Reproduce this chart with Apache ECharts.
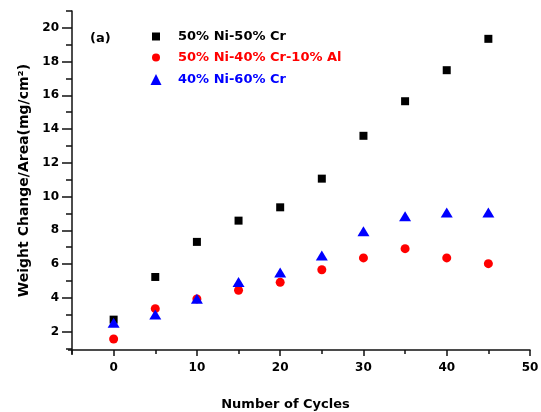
<!DOCTYPE html>
<html>
<head>
<meta charset="utf-8">
<script src="https://cdn.jsdelivr.net/npm/echarts@6/dist/echarts.min.js"></script>
<style>
html,body{margin:0;padding:0;background:#fff;}
#chart{width:541px;height:412px;}
</style>
</head>
<body>
<div id="chart"></div>
<script>
// ---- data ----
var cycles = [0, 5, 10, 15, 20, 25, 30, 35, 40, 45];
var niCr50 = [2.70, 5.23, 7.31, 8.57, 9.36, 11.06, 13.60, 15.65, 17.49, 19.35];
var niCrAl = [1.55, 3.35, 3.93, 4.44, 4.91, 5.66, 6.36, 6.91, 6.36, 6.02];
var niCr60 = [2.52, 3.00, 3.94, 4.93, 5.50, 6.51, 7.94, 8.83, 9.06, 9.06];
var seriesNames = ['50% Ni-50% Cr', '50% Ni-40% Cr-10% Al', '40% Ni-60% Cr'];
var xMajorTicks = [0, 10, 20, 30, 40, 50];
var xMinorTicks = [-5, 5, 15, 25, 35, 45];
var yMajorTicks = [2, 4, 6, 8, 10, 12, 14, 16, 18, 20];
var yMinorTicks = [1, 3, 5, 7, 9, 11, 13, 15, 17, 19, 21];

function pairs(xs, ys) { return xs.map(function (x, i) { return [x, ys[i]]; }); }

var FONT = '"DejaVu Sans", Verdana, sans-serif';
var AX = '#111';
var legendText = { fontFamily: FONT, fontSize: 13, fontWeight: 'bold', lineHeight: 15 };
var chart = echarts.init(document.getElementById('chart'));
var option = {
  backgroundColor: '#fff',
  animation: false,
  title: {
    text: '(a)', left: 90, top: 32, padding: 0,
    textStyle: { fontFamily: FONT, fontSize: 13, fontWeight: 'bold', color: '#000' }
  },
  legend: [
    {
      orient: 'vertical', left: 152, top: 29, padding: 0,
      itemWidth: 8, itemHeight: 8, itemGap: 6,
      textStyle: Object.assign({ padding: [0, 0, 0, 13] }, legendText),
      data: [
        { name: seriesNames[0], icon: 'rect', itemStyle: { color: '#000' }, textStyle: { color: '#000' } },
        { name: seriesNames[1], icon: 'circle', itemStyle: { color: '#ff0000' }, textStyle: { color: '#ff0000' } }
      ]
    },
    {
      orient: 'vertical', left: 150.5, top: 72, padding: 0,
      itemWidth: 11, itemHeight: 11, itemGap: 6,
      textStyle: Object.assign({ padding: [0, 0, 0, 11.5] }, legendText),
      data: [
        { name: seriesNames[2], icon: 'triangle', itemStyle: { color: '#0000ff' }, textStyle: { color: '#0000ff' } }
      ]
    }
  ],
  grid: { left: 72, right: 11, top: 11, bottom: 62, containLabel: false, outerBoundsMode: 'none' },
  xAxis: [
    {
      type: 'value', min: -5, max: 50, position: 'bottom',
      name: 'Number of Cycles', nameLocation: 'middle', nameGap: 48,
      nameTextStyle: { fontFamily: FONT, fontSize: 13, fontWeight: 'bold', color: '#000', padding: [0, 31, 0, 0] },
      axisLine: { onZero: false, lineStyle: { color: AX, width: 1.5 } },
      axisTick: { customValues: xMajorTicks, length: 6, lineStyle: { color: AX, width: 1.5 } },
      axisLabel: { customValues: xMajorTicks, margin: 12, fontFamily: FONT, fontSize: 12, fontWeight: 'bold', color: '#000' },
      splitLine: { show: false }
    },
    {
      type: 'value', min: -5, max: 50, position: 'bottom',
      axisLine: { show: false, onZero: false },
      axisTick: { customValues: xMinorTicks, length: 4, lineStyle: { color: AX, width: 1.5 } },
      axisLabel: { show: false },
      splitLine: { show: false }
    }
  ],
  yAxis: [
    {
      type: 'value', min: 0.9, max: 21, position: 'left',
      name: 'Weight Change/Area(mg/cm²)', nameLocation: 'middle', nameGap: 39,
      nameTextStyle: { fontFamily: FONT, fontSize: 14, fontWeight: 'bold', color: '#000' },
      axisLine: { onZero: false, lineStyle: { color: AX, width: 1.5 } },
      axisTick: { customValues: yMajorTicks, length: 10, lineStyle: { color: AX, width: 1.5 } },
      axisLabel: { customValues: yMajorTicks, margin: 13, fontFamily: FONT, fontSize: 12, fontWeight: 'bold', color: '#000' },
      splitLine: { show: false }
    },
    {
      type: 'value', min: 0.9, max: 21, position: 'left',
      axisLine: { show: false, onZero: false },
      axisTick: { customValues: yMinorTicks, length: 6, lineStyle: { color: AX, width: 1.5 } },
      axisLabel: { show: false },
      splitLine: { show: false }
    }
  ],
  series: [
    { name: seriesNames[0], type: 'scatter', symbol: 'rect', symbolSize: 8, itemStyle: { color: '#000', opacity: 1 }, data: pairs(cycles, niCr50) },
    { name: seriesNames[1], type: 'scatter', symbol: 'circle', symbolSize: 9, itemStyle: { color: '#ff0000', opacity: 1 }, data: pairs(cycles, niCrAl) },
    { name: seriesNames[2], type: 'scatter', symbol: 'triangle', symbolSize: [12, 10], itemStyle: { color: '#0000ff', opacity: 1 }, data: pairs(cycles, niCr60) }
  ]
};
chart.setOption(option);
// small axis cross extension at bottom-left corner
var corner = chart.convertToPixel({ xAxisIndex: 0, yAxisIndex: 0 }, [-5, 0.9]);
chart.setOption({
  graphic: [
    { type: 'line', shape: { x1: corner[0], y1: corner[1], x2: corner[0], y2: corner[1] + 5 }, style: { stroke: AX, lineWidth: 1.5 } },
    { type: 'line', shape: { x1: corner[0] - 4, y1: corner[1], x2: corner[0], y2: corner[1] }, style: { stroke: AX, lineWidth: 1.5 } }
  ]
});
</script>
</body>
</html>
